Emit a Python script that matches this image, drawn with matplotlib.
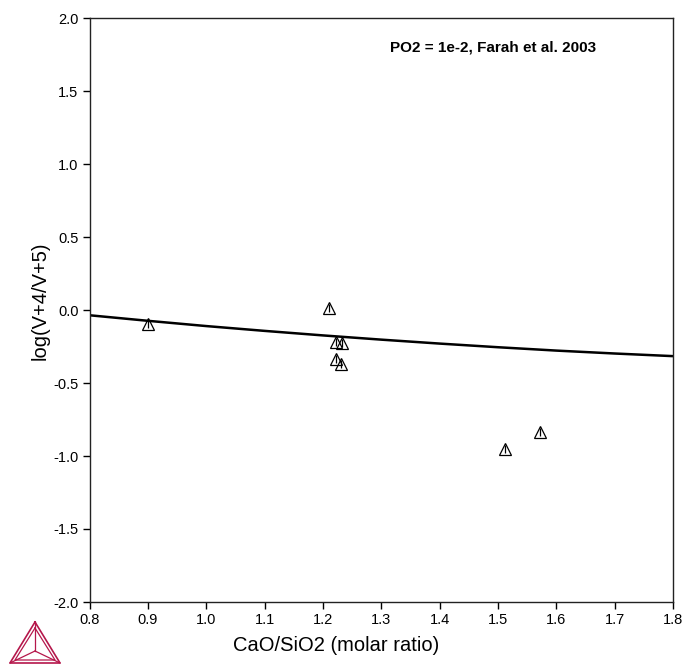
import matplotlib
matplotlib.use("Agg")
import matplotlib.pyplot as plt
from matplotlib.lines import Line2D

plt.rcParams['font.family'] = ['Liberation Sans', 'DejaVu Sans']

# Calculated curve
curve_x = [0.8, 0.9, 1.0, 1.1, 1.2, 1.3, 1.4, 1.5, 1.6, 1.7, 1.8]
curve_y = [-0.036, -0.074, -0.110, -0.143, -0.174, -0.203, -0.230, -0.255, -0.278, -0.298, -0.316]

# Experimental points (Farah et al. 2003)
exp_x = [0.900, 1.210, 1.222, 1.233, 1.222, 1.231, 1.512, 1.572]
exp_y = [-0.096, 0.015, -0.219, -0.226, -0.336, -0.370, -0.952, -0.836]

xticks = [0.8, 0.9, 1.0, 1.1, 1.2, 1.3, 1.4, 1.5, 1.6, 1.7, 1.8]
yticks = [-2.0, -1.5, -1.0, -0.5, 0.0, 0.5, 1.0, 1.5, 2.0]

fig = plt.figure(figsize=(6.85, 6.64), dpi=100)
ax = fig.add_axes([89.5/685, 62/664, (673-89.5)/685, (602-18)/664])

ax.plot(curve_x, curve_y, color='black', lw=1.8, solid_capstyle='butt')
ax.plot(exp_x, exp_y, linestyle='none', marker='^', ms=8.5, mfc='none', mec='black', mew=0.9)
ax.plot(exp_x, exp_y, linestyle='none', marker='|', ms=5.5, mec='black', mew=0.9)

ax.set_xlim(0.8, 1.8)
ax.set_ylim(-2.0, 2.0)
ax.set_xticks(xticks)
ax.set_yticks(yticks)
ax.set_xticklabels([f"{t:.1f}" for t in xticks])
ax.set_yticklabels([f"{t:.1f}" for t in yticks])
ax.tick_params(direction='out', length=5, width=1, labelsize=10.5, colors='black', pad=3)
for s in ax.spines.values():
    s.set_linewidth(1.0)
    s.set_color('#222222')

ax.set_xlabel('CaO/SiO2 (molar ratio)', fontsize=14.5)
ax.set_ylabel('log(V+4/V+5)', fontsize=14.5)
ax.xaxis.set_label_coords(0.4225, -0.058)
ax.yaxis.set_label_coords(-0.068, 0.515)

ax.text(0.6915, 0.950, 'PO2 = 1e-2, Farah et al. 2003', transform=ax.transAxes,
        ha='center', va='center', fontsize=11, fontweight='bold')

# Logo (Thermo-Calc style)
c = '#b5174b'
W, H = 685, 664
def P(x, y):
    return (x / W, 1 - y / H)
apex, bl, br, cen = (35, 622), (10, 663), (60, 663), (35, 651)
tri = [apex, br, bl, apex]
xs, ys = zip(*[P(*p) for p in tri])
fig.add_artist(Line2D(xs, ys, color=c, lw=1.2))
inner = [(35, 628), (55, 660), (15, 660), (35, 628)]
xs, ys = zip(*[P(*p) for p in inner])
fig.add_artist(Line2D(xs, ys, color=c, lw=0.9))
for v in [apex, bl, br]:
    xs, ys = zip(P(*v), P(*cen))
    fig.add_artist(Line2D(xs, ys, color=c, lw=0.9))

fig.savefig('out.png', dpi=100)
